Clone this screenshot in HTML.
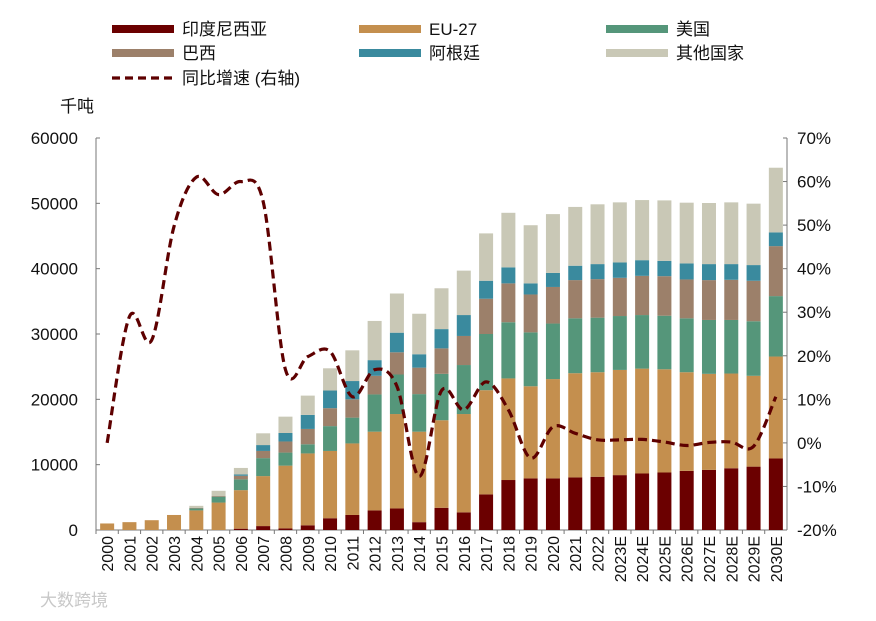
<!DOCTYPE html>
<html><head><meta charset="utf-8"><style>
body{margin:0;background:#fff;}
svg text{font-family:"Liberation Sans","Noto Sans CJK SC",sans-serif;fill:#111;}
</style></head><body>
<svg id="chart" width="876" height="616" viewBox="0 0 876 616" xmlns="http://www.w3.org/2000/svg">
<g id="legend"></g>
<text x="60" y="112" font-size="17">千吨</text>
<g id="axes"></g>
<g id="bars"></g>
<g id="line"></g>
<text x="40" y="606" font-size="17" style="fill:#c8c8c8">大数跨境</text>
</svg>
<script>
const categories=["2000","2001","2002","2003","2004","2005","2006","2007","2008","2009","2010","2011","2012","2013","2014","2015","2016","2017","2018","2019","2020","2021","2022","2023E","2024E","2025E","2026E","2027E","2028E","2029E","2030E"];
const seriesNames=["印度尼西亚","EU-27","美国","巴西","阿根廷","其他国家"];
const seriesColors=["#6b0000","#c48f4e","#55967a","#9c806a","#3a8a9e","#c9c8b6"];
const indonesia=[0,0,0,0,0,0,200,600,250,720,1800,2300,3000,3300,1200,3400,2700,5450,7650,7900,7900,8050,8150,8400,8650,8800,9050,9200,9450,9700,10950];
const eu27=[1000,1200,1500,2300,3000,4200,5900,7650,9600,11000,10300,10950,12050,14450,13850,13400,15050,15950,15550,14100,15200,15950,16000,16100,16050,15800,15100,14700,14500,13900,15600];
const usa=[0,0,0,0,300,900,1650,2750,2000,1400,3800,3950,5700,6050,5750,7100,7500,8600,8600,8250,8500,8400,8350,8250,8200,8200,8250,8250,8200,8350,9250];
const brazil=[0,0,0,0,100,100,550,1100,1700,2350,2750,2800,2850,3400,4050,3900,4450,5400,5950,5800,5600,5850,5900,5850,6000,6050,5950,6100,6150,6200,7650];
const argentina=[0,0,0,0,0,0,200,900,1300,2150,2700,2800,2400,3000,2050,2950,3200,2750,2450,1700,2150,2200,2300,2350,2400,2350,2450,2450,2400,2400,2100];
const others=[0,0,0,0,300,800,1000,1800,2500,2950,3400,4700,6000,6000,6200,6250,6800,7250,8350,8900,9000,9000,9150,9200,9200,9250,9300,9350,9450,9400,9900];
const growth=[0,29,23.6,49.7,61,57,60,55.4,16.8,19.8,21,10.6,16.8,13,-7.7,12,7.6,14,7.6,-3.5,3.7,2.2,0.7,0.7,0.8,0.2,-0.6,0.1,0.2,-0.8,10.6];
const leftTicks=[0,10000,20000,30000,40000,50000,60000];
const rightTicks=[-20,-10,0,10,20,30,40,50,60,70];

const NS="http://www.w3.org/2000/svg";
function mk(tag,attrs,parent,txt){const e=document.createElementNS(NS,tag);for(const k in attrs)e.setAttribute(k,attrs[k]);if(txt!==undefined)e.textContent=txt;parent.appendChild(e);return e;}
const X0=96,X1=787,Y0=530,Y1=138;
const step=(X1-X0)/categories.length;
const xC=i=>X0+step*(i+0.5);
const yL=v=>Y0-(v/60000)*(Y0-Y1);
const yR=v=>Y0-((v+20)/90)*(Y0-Y1);

const axes=document.getElementById('axes');
let a=mk('line',{x1:X0,y1:Y1,x2:X0,y2:Y0,stroke:'#777','stroke-width':1},axes);

a=mk('line',{x1:X1,y1:Y1,x2:X1,y2:Y0,stroke:'#777','stroke-width':1},axes);

a=mk('line',{x1:X0,y1:Y0,x2:X1,y2:Y0,stroke:'#777','stroke-width':1},axes);

leftTicks.forEach(v=>{
  mk('line',{x1:X0,y1:yL(v),x2:X0+4,y2:yL(v),stroke:'#777'},axes);
  const t=mk('text',{x:78,y:yL(v)+6,'font-size':17,'text-anchor':'end'},axes,String(v));
  
});
rightTicks.forEach(v=>{
  mk('line',{x1:X1-4,y1:yR(v),x2:X1,y2:yR(v),stroke:'#777'},axes);
  const t=mk('text',{x:797,y:yR(v)+6,'font-size':17},axes,v+'%');
  
});
categories.forEach((c,i)=>{
  mk('line',{x1:X0+step*i,y1:Y0,x2:X0+step*i,y2:Y0+4,stroke:'#777'},axes);
  const t=mk('text',{x:0,y:0,'font-size':16,'text-anchor':'end',transform:`translate(${xC(i)+6},${Y0+6}) rotate(-90)`},axes,c);
  
});

const series=[indonesia,eu27,usa,brazil,argentina,others];
const bars=document.getElementById('bars');
categories.forEach((c,i)=>{
  let base=0;
  series.forEach((s,k)=>{
    const v=s[i];if(!v){return;}
    const r=mk('rect',{x:xC(i)-7,y:yL(base+v),width:14,height:yL(base)-yL(base+v),fill:seriesColors[k]},bars);
    
    
    base+=v;
  });
});

const pts=growth.map((v,i)=>[xC(i),yR(v)]);
let d=`M${pts[0][0]},${pts[0][1]}`;
for(let i=0;i<pts.length-1;i++){
  const p0=pts[Math.max(0,i-1)],p1=pts[i],p2=pts[i+1],p3=pts[Math.min(pts.length-1,i+2)];
  const c1=[p1[0]+(p2[0]-p0[0])/6,p1[1]+(p2[1]-p0[1])/6];
  const c2=[p2[0]-(p3[0]-p1[0])/6,p2[1]-(p3[1]-p1[1])/6];
  d+=` C${c1[0]},${c1[1]} ${c2[0]},${c2[1]} ${p2[0]},${p2[1]}`;
}
const ln=mk('path',{d:d,fill:'none',stroke:'#5e0000','stroke-width':3.2,'stroke-dasharray':'9,5'},document.getElementById('line'));



const lg=document.getElementById('legend');
const pos=[[112,29],[359,29],[606,29],[112,53],[359,53],[606,53]];
seriesNames.forEach((n,k)=>{
  const g=mk('g',{},lg);
  
  
  mk('rect',{x:pos[k][0],y:pos[k][1]-4,width:62,height:8,fill:seriesColors[k]},g);
  mk('text',{x:pos[k][0]+70,y:pos[k][1]+6,'font-size':17},g,n);
});
const g2=mk('g',{},lg);


mk('line',{x1:112,y1:78,x2:174,y2:78,stroke:'#5e0000','stroke-width':3.2,'stroke-dasharray':'8,5'},g2);
mk('text',{x:182,y:84,'font-size':17},g2,'同比增速 (右轴)');
</script>
</body></html>
